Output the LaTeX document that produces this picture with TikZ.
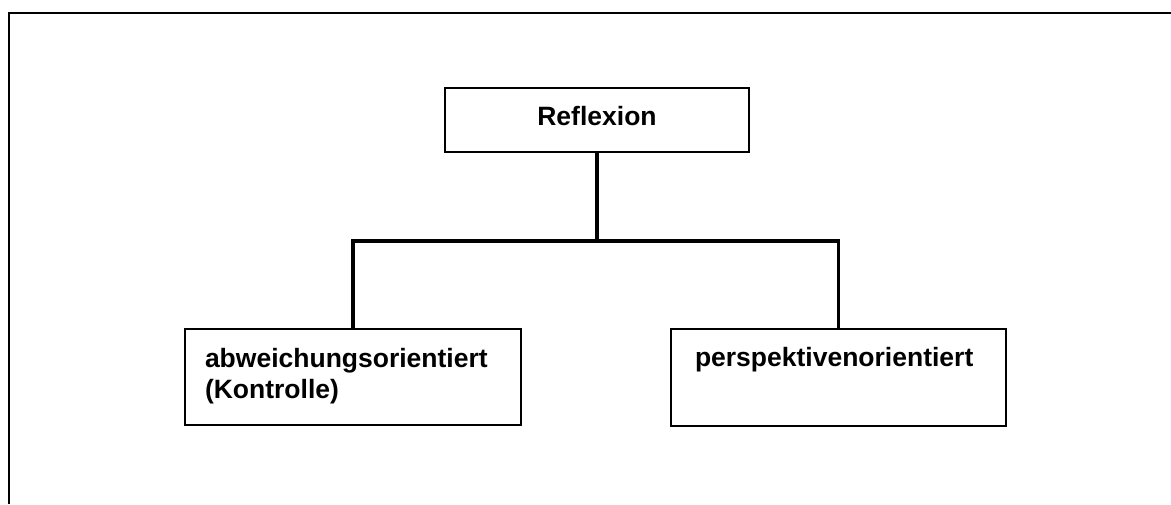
\documentclass[tikz,border=0pt]{standalone}
\usepackage{fontspec}
\setmainfont{Liberation Sans}
\begin{document}
\begin{tikzpicture}[x=1pt,y=-1pt,
  box/.style={draw=black,line width=2pt,rectangle,inner sep=0pt,outer sep=0pt},
  conn/.style={draw=black,line width=3.5pt,line join=miter},
  lbl/.style={inner sep=0pt,outer sep=0pt,font=\fontsize{26.5}{31}\selectfont\bfseries,align=left}]
  \useasboundingbox (0,0) rectangle (1171,504);
  % open frame: left and top edges only
  \draw[line width=2.5pt] (9,504) -- (9,13) -- (1171,13);
  % boxes
  \node[box,minimum width=304pt,minimum height=64pt] (top) at (597,120) {};
  \node[box,minimum width=336pt,minimum height=96pt] (left) at (353,377) {};
  \node[box,minimum width=335pt,minimum height=97pt] (right) at (838.5,377.5) {};
  % labels (base anchor sits on the last line)
  \node[lbl,anchor=base] (ttop) at (597,125) {Reflexion};
  \node[lbl,anchor=base west] (tleft) at (205,398) {abweichungsorientiert\\(Kontrolle)};
  \node[lbl,anchor=base west] (tright) at (695,366) {perspektivenorientiert};
  % connectors
  \coordinate (bar) at (597,241);
  \draw[conn] (top.south) -- (bar);
  \draw[conn] (left.north) |- (bar) -| (right.north);
\end{tikzpicture}
\end{document}
